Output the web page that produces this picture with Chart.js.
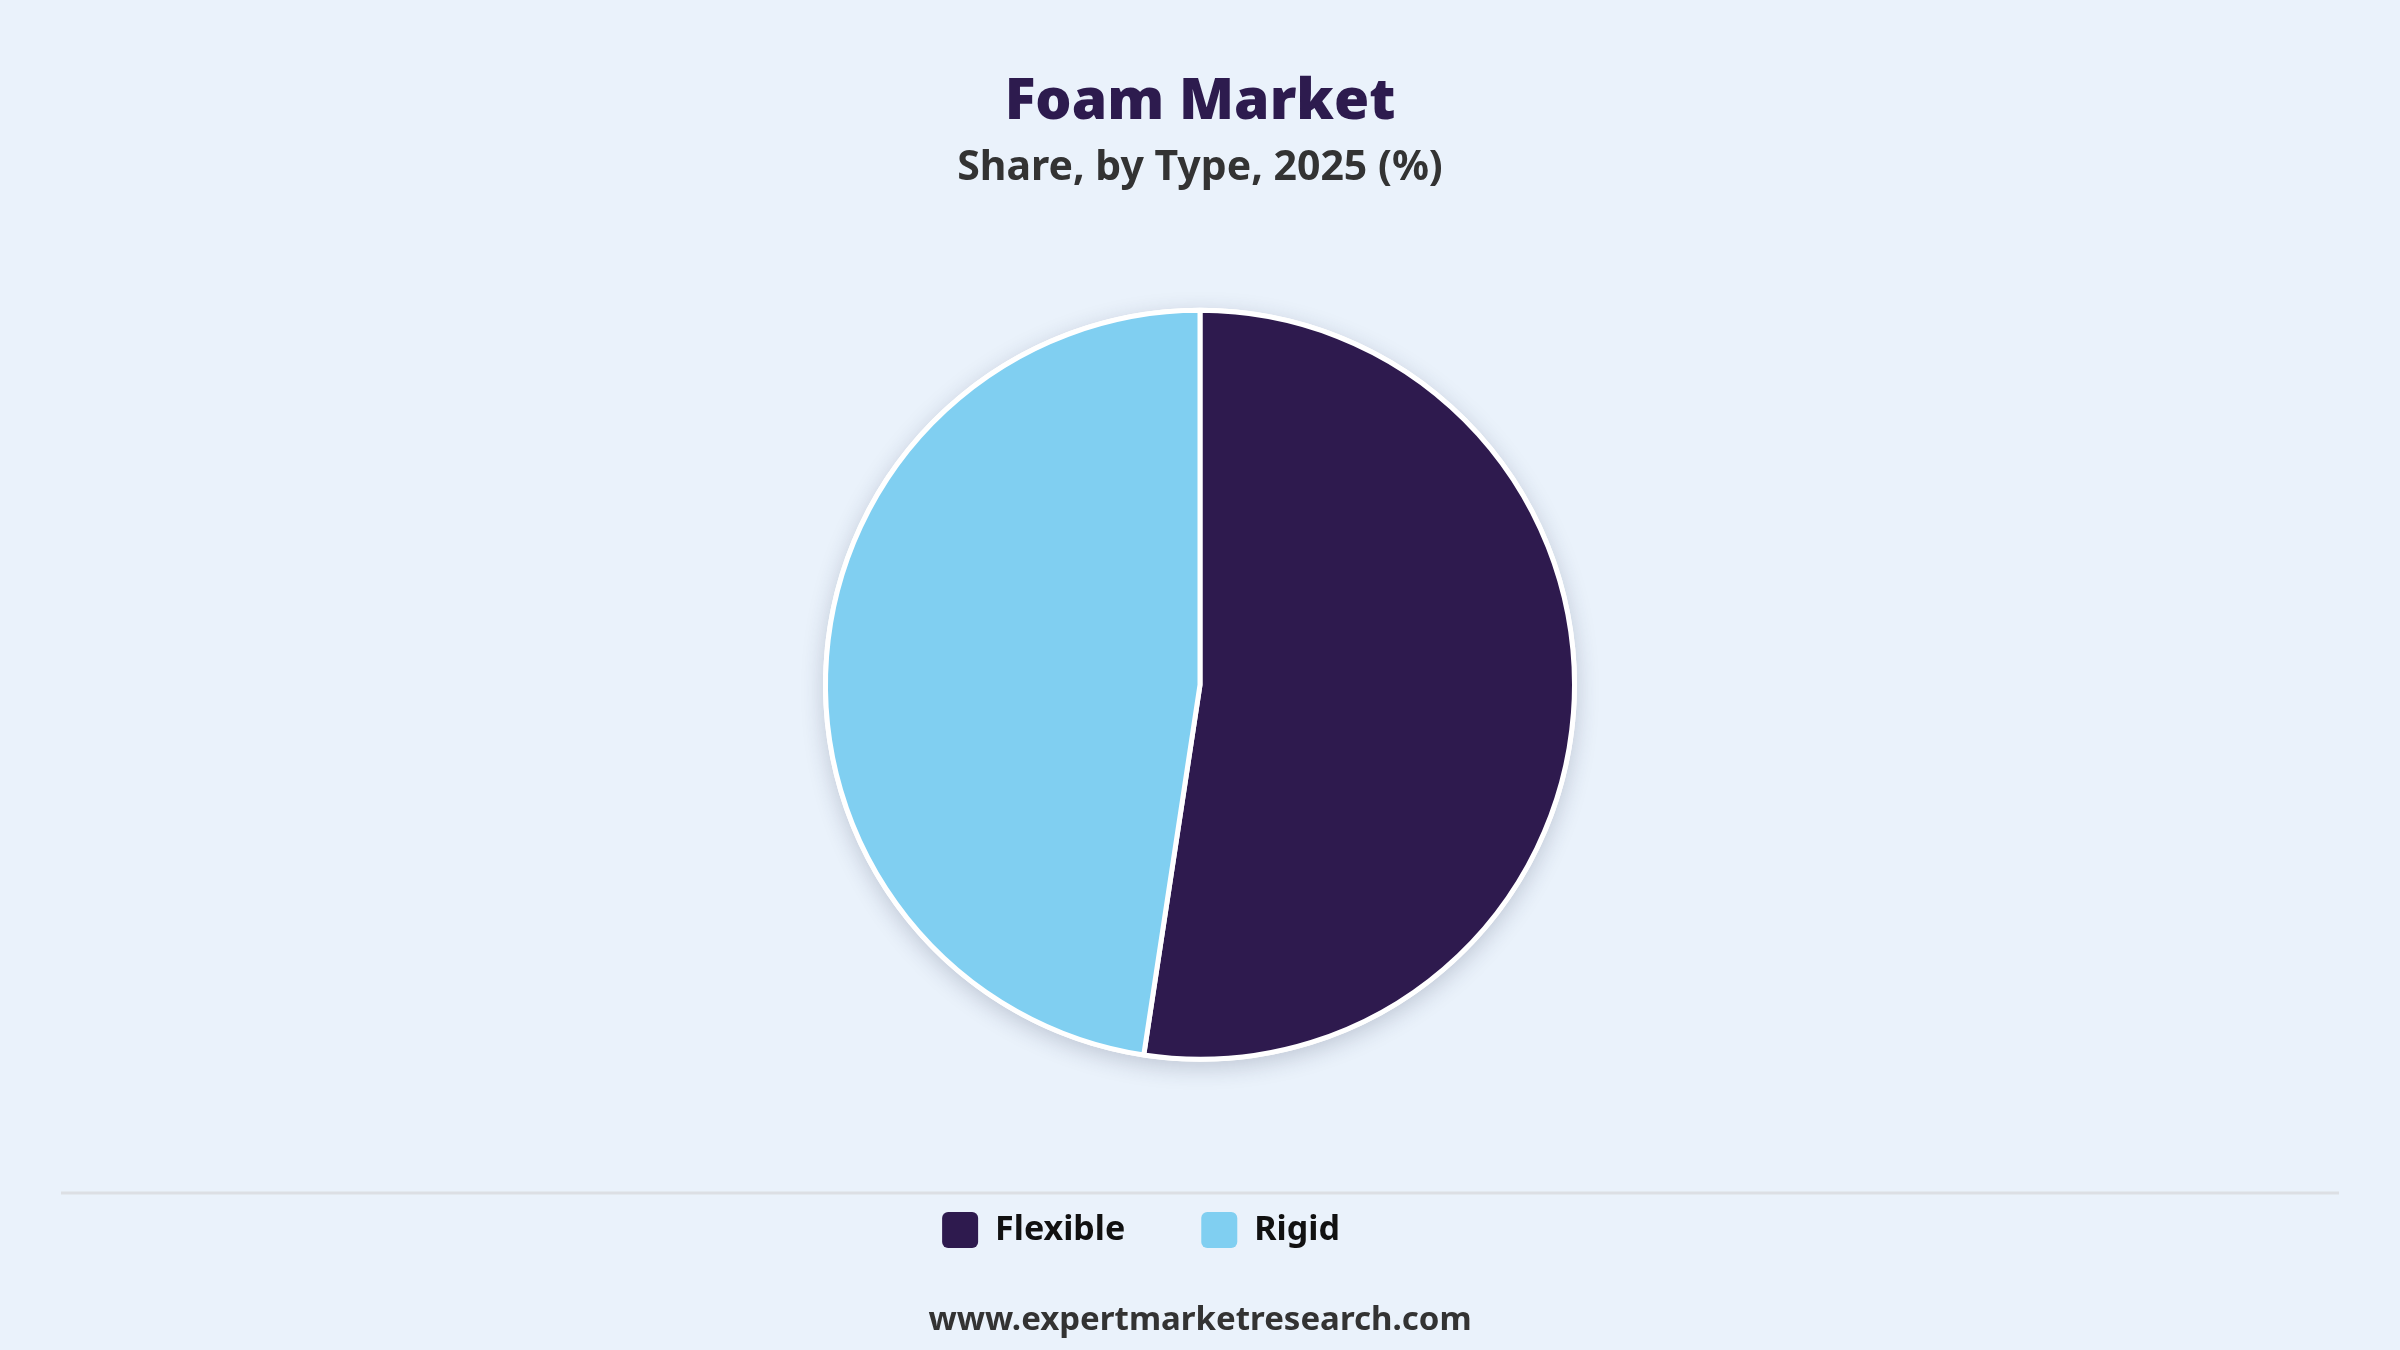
<!DOCTYPE html>
<html>
<head>
<meta charset="utf-8">
<title>Foam Market</title>
<script src="https://cdn.jsdelivr.net/npm/chart.js@4.4.1/dist/chart.umd.min.js"></script>
<style>
    html, body { margin: 0; padding: 0; background: #EAF2FB; }
    #wrap { width: 2400px; height: 1350px; position: relative; }
</style>
</head>
<body>
<div id="wrap"><canvas id="foamChart"></canvas></div>
<script>
/* ============ DATOS ============ */

const tipos = ["Flexible", "Rigid"];
const participacion = [52.4, 47.6];
const colores = ["#2E1A4E", "#80CFF1"];

const titulo = "Foam Market";
const subtitulo = "Share, by Type, 2025 (%)";
const fuente = "www.expertmarketresearch.com";

/* ============ PLUGINS ============ */

// sombra suave detrás del pie
const sombraPie = {
    id: "sombraPie",
    beforeDatasetsDraw(chart) {
        const arc = chart.getDatasetMeta(0).data[0];
        if (!arc) return;
        const ctx = chart.ctx;
        ctx.save();
        ctx.shadowColor = "rgba(40, 50, 80, 0.22)";
        ctx.shadowBlur = 22;
        ctx.shadowOffsetY = 6;
        ctx.fillStyle = "#FFFFFF";
        ctx.beginPath();
        ctx.arc(arc.x, arc.y, arc.outerRadius + 2.5, 0, Math.PI * 2);
        ctx.fill();
        ctx.restore();
    }
};

// línea separadora y pie de página
const pieDePagina = {
    id: "pieDePagina",
    afterLayout(chart) {
        // la leyenda del original está un poco corrida a la izquierda
        chart.legend.left -= 59;
        chart.legend.right -= 59;
    },
    afterDraw(chart) {
        const ctx = chart.ctx;
        ctx.save();
        ctx.strokeStyle = "#DCDFE4";
        ctx.lineWidth = 3;
        ctx.beginPath();
        ctx.moveTo(61, 1193);
        ctx.lineTo(2339, 1193);
        ctx.stroke();

        ctx.fillStyle = "#333333";
        ctx.font = "bold 33px 'Noto Sans'";
        ctx.textAlign = "center";
        ctx.textBaseline = "middle";
        ctx.fillText(fuente, chart.width / 2, 1321);
        ctx.restore();
    }
};

/* ============ GRÁFICO ============ */

function initFoamChart() {
    const ctx = document.getElementById("foamChart");
    const etiquetasBase = Chart.overrides.pie.plugins.legend.labels.generateLabels;

    new Chart(ctx, {
        type: "pie",
        data: {
            labels: tipos,
            datasets: [{
                data: participacion,
                backgroundColor: colores,
                borderColor: "#FFFFFF",
                borderWidth: 5,
                radius: 374.5
            }]
        },
        options: {
            responsive: true,
            maintainAspectRatio: false,
            devicePixelRatio: 1,
            animation: false,
            layout: { padding: { bottom: 92 } },
            plugins: {
                title: {
                    display: true,
                    text: titulo,
                    color: "#2D1B4E",
                    font: { family: "'Noto Sans'", size: 57, weight: 900 },
                    padding: { top: 69, bottom: 0 }
                },
                subtitle: {
                    display: true,
                    text: subtitulo,
                    color: "#333333",
                    font: { family: "'Noto Sans'", size: 41, weight: "bold" },
                    padding: { top: 6, bottom: 41 }
                },
                legend: {
                    position: "bottom",
                    labels: {
                        boxWidth: 36,
                        boxHeight: 36,
                        padding: 76,
                        useBorderRadius: true,
                        borderRadius: 6,
                        color: "#111111",
                        font: { family: "'Noto Sans'", size: 34, weight: "bold" },
                        generateLabels(chart) {
                            return etiquetasBase(chart).map(item => ({ ...item, lineWidth: 0, strokeStyle: item.fillStyle }));
                        }
                    }
                },
                tooltip: { enabled: false }
            }
        },
        plugins: [sombraPie, pieDePagina]
    });
}

document.addEventListener("DOMContentLoaded", initFoamChart);
</script>
</body>
</html>
